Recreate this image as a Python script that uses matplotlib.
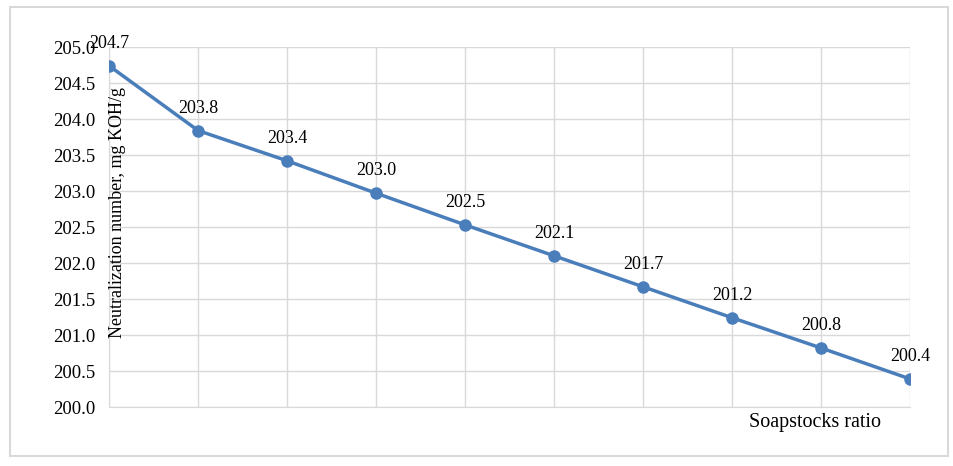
import numpy as np
import matplotlib.pyplot as plt
from matplotlib.patches import Rectangle

# soapstock ratio steps (no tick labels in the original)
ratio = np.arange(1, 11)
neutralization = [204.74, 203.84, 203.42, 202.97, 202.53, 202.10, 201.67, 201.24, 200.82, 200.39]
yticks = [200.0, 200.5, 201.0, 201.5, 202.0, 202.5, 203.0, 203.5, 204.0, 204.5, 205.0]

plt.rcParams['font.family'] = ['Liberation Serif', 'DejaVu Serif']

fig = plt.figure(figsize=(9.54, 4.66), dpi=100)
ax = fig.add_axes([0.1143, 0.1266, 0.8396, 0.7725])

blue = '#4a7ebb'
grid = '#d9d9d9'

ax.plot(ratio, neutralization, color=blue, lw=2.5, marker='o', ms=8, zorder=3)
for x, y in zip(ratio, neutralization):
    ax.annotate(f"{y:.1f}", (x, y), xytext=(0, 16), textcoords='offset points',
                ha='center', va='center', fontsize=13)

ax.set_xlim(ratio[0], ratio[-1])
ax.set_ylim(200, 205)
ax.set_xticks(ratio)
ax.set_xticklabels([])
ax.set_yticks(yticks)
ax.set_yticklabels([f"{t:.1f}" for t in yticks], fontsize=13.5)
ax.tick_params(length=0, pad=10)
ax.grid(True, color=grid, lw=1)
ax.set_axisbelow(True)
for s in ax.spines.values():
    s.set_visible(False)
ax.spines['bottom'].set_visible(True)
ax.spines['bottom'].set_color(grid)
ax.spines['left'].set_visible(True)
ax.spines['left'].set_color(grid)

fig.text(118 / 954, 1 - 213 / 466, "Neutralization number, mg KOH/g", rotation=90,
         ha='center', va='center', fontsize=13)
fig.text(815 / 954, 1 - 423 / 466, "Soapstocks ratio", ha='center', va='center', fontsize=14.5)

fig.patches.append(Rectangle((10 / 954, 1 - 456 / 466), 938 / 954, 449 / 466,
                             transform=fig.transFigure, fill=False, ec=grid, lw=1.5))

fig.savefig('out.png', dpi=100)
